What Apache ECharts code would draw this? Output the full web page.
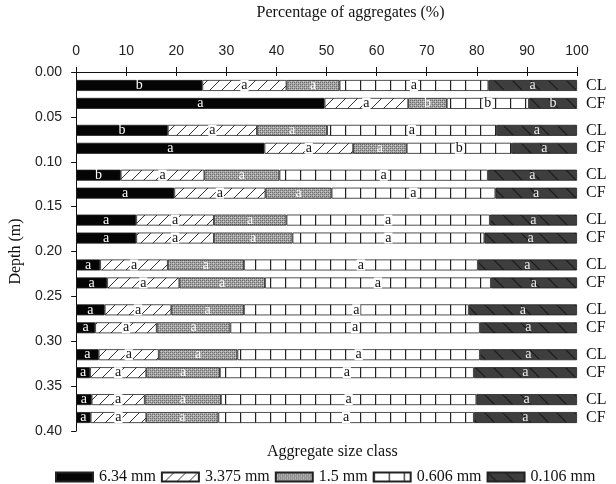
<!DOCTYPE html>
<html>
<head>
<meta charset="utf-8">
<script src="https://cdn.jsdelivr.net/npm/echarts@6/dist/echarts.min.js"></script>
<style>html,body{margin:0;padding:0;background:#fff}#c{width:616px;height:484px}</style>
</head>
<body>
<div id="c"></div>
<script>
// ---- data ----
const rowNames = ['CL','CF','CL','CF','CL','CF','CL','CF','CL','CF','CL','CF','CL','CF','CL','CF'];
const seriesNames = ['6.34 mm','3.375 mm','1.5 mm','0.606 mm','0.106 mm'];
const s634  = [25.2, 49.6, 18.3, 37.6, 8.9, 19.6, 12.0, 12.0, 4.8, 6.2, 5.7, 3.8, 4.5, 2.8, 3.1, 2.9];
const s3375 = [16.8, 16.7, 17.8, 17.7, 16.7, 18.2, 15.5, 15.5, 13.5, 14.4, 13.3, 12.3, 12.0, 11.2, 10.6, 11.1];
const s15   = [10.6, 7.7, 14.0, 10.7, 15.0, 13.2, 14.5, 15.7, 15.2, 17.1, 14.5, 14.7, 15.7, 14.7, 15.2, 14.4];
const s0606 = [29.7, 16.4, 33.9, 21.0, 41.6, 32.7, 40.6, 38.3, 46.7, 45.1, 44.9, 49.8, 48.4, 50.7, 51.0, 51.0];
const s0106 = [17.7, 9.6, 16.0, 13.0, 17.8, 16.3, 17.4, 18.5, 19.8, 17.2, 21.6, 19.4, 19.4, 20.6, 20.1, 20.6];
const l634  = ['b','a','b','a','b','a','a','a','a','a','a','a','a','a','a','a'];
const l3375 = ['a','a','a','a','a','a','a','a','a','a','a','a','a','a','a','a'];
const l15   = ['a','b','a','a','a','a','a','a','a','a','a','a','a','a','a','a'];
const l0606 = ['a','b','a','b','a','a','a','a','a','a','a','a','a','a','a','a'];
const l0106 = ['a','b','a','a','a','a','a','a','a','a','a','a','a','a','a','a'];
const depthMin = 0, depthMax = 0.40, depthStep = 0.05;
const xTicksMin = 0, xTicksMax = 100, xStep = 10;

// ---- layout slots: 40 slots of 0.01 m; CL at slot 1, CF at slot 3 in each 0.05 m block ----
const NS = 40;
const slotRow = new Array(NS).fill(-1);
rowNames.forEach((n, i) => { const g = Math.floor(i / 2); slotRow[g * 5 + (i % 2 ? 3 : 1)] = i; });
const slotCats = slotRow.map((r, k) => 's' + k);
function toSlots(arr) { return slotRow.map(r => r < 0 ? '-' : arr[r]); }

// ---- patterns ----
function pat(w, h, draw) {
  const c = document.createElement('canvas'); c.width = w; c.height = h;
  const g = c.getContext('2d'); draw(g, w, h); return { image: c, repeat: 'repeat' };
}
const pBlack = '#050505';
const pHatch = pat(12, 12, (g, w, h) => {
  g.fillStyle = '#fff'; g.fillRect(0, 0, w, h);
  g.strokeStyle = '#333'; g.lineWidth = 1;
  g.beginPath(); g.moveTo(-1, h + 1); g.lineTo(w + 1, -1); g.stroke();
});
const pStip = pat(4, 4, (g, w, h) => {
  g.fillStyle = '#a6a6a6'; g.fillRect(0, 0, w, h);
  g.fillStyle = '#6e6e6e'; g.fillRect(0, 0, 1, 1); g.fillRect(2, 2, 1, 1); g.fillRect(2, 0, 1, 1); g.fillRect(0, 2, 1, 1);
  g.fillStyle = '#cfcfcf'; g.fillRect(1, 3, 1, 1); g.fillRect(3, 1, 1, 1);
});
const pBox = pat(15, 4, (g, w, h) => {
  g.fillStyle = '#fff'; g.fillRect(0, 0, w, h);
  g.fillStyle = '#222'; g.fillRect(0, 0, 1.2, h);
});
const pDark = pat(18, 18, (g, w, h) => {
  g.fillStyle = '#3e3e3e'; g.fillRect(0, 0, w, h);
  g.strokeStyle = '#1a1a1a'; g.lineWidth = 1.2;
  g.beginPath(); g.moveTo(-1, -1); g.lineTo(w + 1, h + 1); g.stroke();
});

const fills = [pBlack, pHatch, pStip, pBox, pDark];
const vals = [s634, s3375, s15, s0606, s0106];
const lets = [l634, l3375, l15, l0606, l0106];
const labColors = ['#fff', '#111', '#fff', '#111', '#eee'];
const labBg = [null, '#fff', null, '#fff', null];

const serif = '"Liberation Serif","DejaVu Serif",serif';
const sans = '"Liberation Sans",Arial,sans-serif';

const series = vals.map((v, si) => ({
  name: seriesNames[si],
  type: 'bar',
  stack: 'total',
  xAxisIndex: 0,
  yAxisIndex: 0,
  barWidth: 11,
  data: toSlots(v),
  itemStyle: { color: fills[si], borderColor: '#222', borderWidth: 0.8 },
  label: {
    show: true, position: 'inside',
    fontFamily: serif, fontSize: 14, color: labColors[si],
    backgroundColor: labBg[si] || 'transparent',
    padding: labBg[si] ? [0, 1, 0, 1] : 0,
    lineHeight: 11,
    formatter: p => { const r = slotRow[p.dataIndex]; return r < 0 ? '' : lets[si][r]; }
  },
  emphasis: { disabled: true },
  animation: false
}));

const chart = echarts.init(document.getElementById('c'), null, { renderer: 'canvas' });
chart.setOption({
  backgroundColor: '#fff',
  animation: false,
  title: {
    text: 'Aggregate size class', left: 262, top: 439,
    textStyle: { fontFamily: serif, fontSize: 16, fontWeight: 'normal', color: '#111' }
  },
  legend: {
    data: seriesNames, left: 55, top: 469, itemWidth: 37, itemHeight: 9, itemGap: 5,
    icon: 'rect', selectedMode: false, padding: 0,
    textStyle: { fontFamily: serif, fontSize: 16, color: '#111', padding: [0, 0, 0, 1] }
  },
  grid: { left: 70.5, right: 39, top: 68, bottom: 53, containLabel: false },
  xAxis: [{
    type: 'value', position: 'top', min: xTicksMin, max: xTicksMax, interval: xStep,
    name: 'Percentage of aggregates (%)', nameLocation: 'middle', nameGap: 51,
    nameTextStyle: { fontFamily: serif, fontSize: 16, color: '#111', padding: [0, 0, 0, 48] },
    axisLine: { show: true, lineStyle: { color: '#111', width: 1 } },
    axisTick: { show: true, length: 5, lineStyle: { color: '#111' } },
    axisLabel: { fontFamily: sans, fontSize: 14, color: '#222', margin: 14 },
    splitLine: { show: false }
  }, {
    type: 'value', position: 'top', min: xTicksMin, max: xTicksMax, interval: xStep,
    axisLine: { show: false }, axisLabel: { show: false }, splitLine: { show: false },
    axisTick: { show: true, inside: true, length: 4, lineStyle: { color: '#111' } }
  }],
  yAxis: [{
    type: 'category', data: slotCats, inverse: true, show: false
  }, {
    type: 'category', data: slotCats, inverse: true, position: 'right',
    axisLine: { show: false }, axisTick: { show: false },
    axisLabel: {
      interval: 0, margin: 9, fontFamily: serif, fontSize: 16, color: '#111',
      formatter: (v, i) => slotRow[i] < 0 ? '' : rowNames[slotRow[i]]
    }
  }, {
    type: 'value', min: depthMin, max: depthMax, interval: depthStep, inverse: true, position: 'left',
    name: 'Depth (m)', nameLocation: 'middle', nameGap: 52, nameRotate: 90,
    nameTextStyle: { fontFamily: serif, fontSize: 16, color: '#111' },
    axisLine: { show: true, lineStyle: { color: '#111', width: 1 } },
    axisTick: { show: true, length: 5, lineStyle: { color: '#111' } },
    axisLabel: { fontFamily: sans, fontSize: 14, color: '#222', margin: 14, formatter: v => v.toFixed(2) },
    splitLine: { show: false }
  }],
  series: series
});
</script>
</body>
</html>
